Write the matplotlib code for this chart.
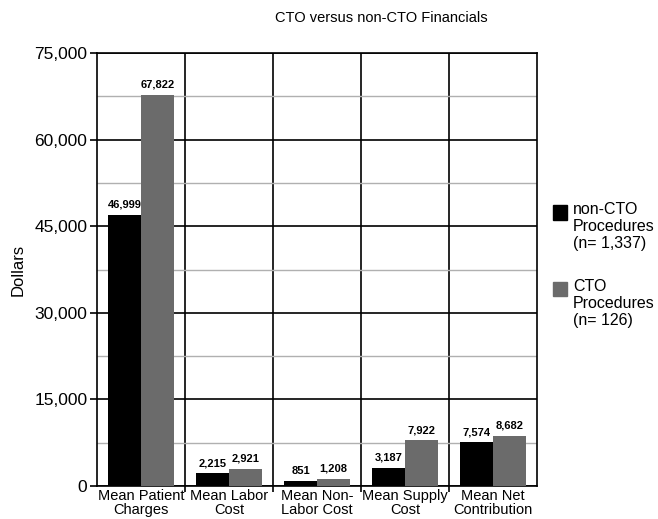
import matplotlib.pyplot as plt
from matplotlib.patches import Rectangle
import numpy as np

plt.rcParams['font.family'] = ['Liberation Sans', 'DejaVu Sans']

# Chart data
categories = ['Mean Patient\nCharges', 'Mean Labor\nCost', 'Mean Non-\nLabor Cost',
              'Mean Supply\nCost', 'Mean Net\nContribution']
non_cto = [46999, 2215, 851, 3187, 7574]
cto = [67822, 2921, 1208, 7922, 8682]
series_labels = ['non-CTO\nProcedures\n(n= 1,337)', 'CTO\nProcedures\n(n= 126)']
yticks = [0, 15000, 30000, 45000, 60000, 75000]

fig = plt.figure(figsize=(6.58, 5.19), dpi=100)
ax = fig.add_axes([0.1474, 0.0636, 0.669, 0.834])

x = np.arange(len(categories))
w = 0.375
b1 = ax.bar(x - w / 2, non_cto, w, color='black', zorder=3)
b2 = ax.bar(x + w / 2, cto, w, color='#6b6b6b', zorder=3)

for bars, vals in ((b1, non_cto), (b2, cto)):
    for rect, v in zip(bars, vals):
        ax.text(rect.get_x() + rect.get_width() / 2, v + 900, f'{v:,}',
                ha='center', va='bottom', fontsize=8, fontweight='bold')

ax.set_xlim(-0.5, len(categories) - 0.5)
ax.set_ylim(0, 75000)

# y axis: major black grid, minor gray grid
ax.set_yticks(yticks)
ax.set_yticklabels([f'{t:,}' for t in yticks], fontsize=12.5)
ax.set_yticks(np.arange(7500, 75000, 15000), minor=True)
ax.grid(True, axis='y', which='major', color='black', linewidth=1.2, zorder=0)
ax.grid(True, axis='y', which='minor', color='#b0b0b0', linewidth=1.0, zorder=0)
ax.tick_params(axis='y', which='major', length=5, width=1.2, pad=2)
ax.tick_params(axis='y', which='minor', length=0)

# x axis: labels at centres, black dividers at boundaries
ax.set_xticks(x)
ax.set_xticklabels(categories, fontsize=10.5, linespacing=1.0)
ax.set_xticks(np.arange(0.5, len(categories) - 0.5, 1), minor=True)
ax.grid(True, axis='x', which='minor', color='black', linewidth=1.2, zorder=0)
ax.tick_params(axis='x', which='major', length=0, pad=2)
ax.tick_params(axis='x', which='minor', length=4, width=1.2)

for s in ax.spines.values():
    s.set_linewidth(1.2)

ax.set_ylabel('Dollars', fontsize=12, labelpad=6)
fig.text(0.58, 0.965, 'CTO versus non-CTO Financials', ha='center', va='center', fontsize=10.5)

# legend: square swatch aligned with the first line of each label
for i, (lab, col) in enumerate(zip(series_labels, ['black', '#6b6b6b'])):
    top = 0.607 - i * 0.148
    fig.patches.append(Rectangle((0.841, top - 0.030), 0.021, 0.028,
                                 transform=fig.transFigure, color=col))
    fig.text(0.871, top + 0.003, lab, ha='left', va='top', fontsize=11.5, linespacing=1.15)

fig.savefig('out.png', dpi=100)
